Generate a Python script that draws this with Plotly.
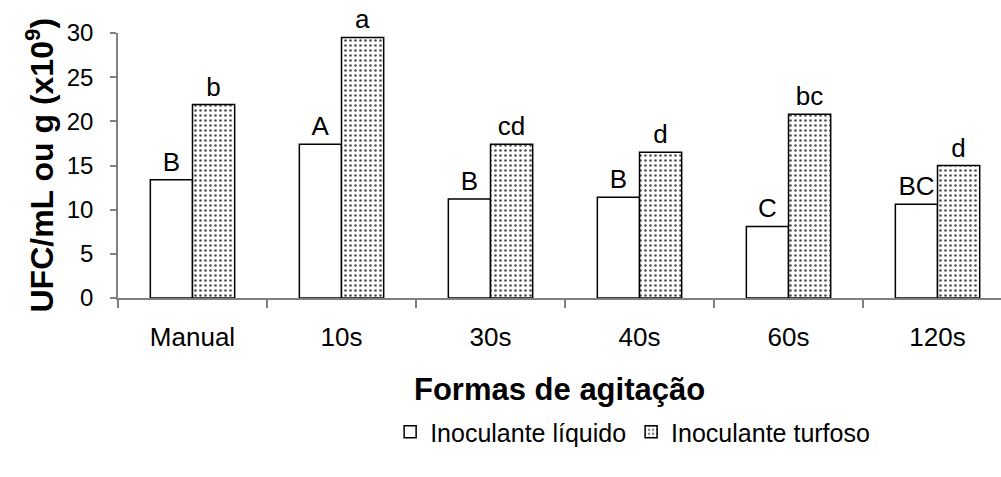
import plotly.graph_objects as go

# Agitation treatments and colony counts (UFC x10^9)
categorias = ["Manual", "10s", "30s", "40s", "60s", "120s"]
liquido = [13.4, 17.4, 11.2, 11.4, 8.1, 10.6]
turfoso = [21.9, 29.5, 17.4, 16.5, 20.8, 15.0]
letras_liquido = ["B", "A", "B", "B", "C", "BC"]
letras_turfoso = ["b", "a", "cd", "d", "bc", "d"]
y_ticks = [0, 5, 10, 15, 20, 25, 30]

FONT = "Arial, Liberation Sans, sans-serif"
AXIS_GRAY = "#808080"

fig = go.Figure()
fig.add_trace(go.Bar(
    x=categorias, y=liquido, name="Inoculante líquido",
    text=letras_liquido, textposition="outside", cliponaxis=False,
    constraintext="none",
    textfont=dict(family=FONT, size=26, color="black"),
    marker=dict(color="white", line=dict(color="black", width=1.5)),
))
fig.add_trace(go.Bar(
    x=categorias, y=turfoso, name="Inoculante turfoso",
    text=letras_turfoso, textposition="outside", cliponaxis=False,
    constraintext="none",
    textfont=dict(family=FONT, size=26, color="black"),
    marker=dict(
        color="white", line=dict(color="black", width=1.5),
        pattern=dict(shape=".", size=5, solidity=0.22,
                     fgcolor="#505050", bgcolor="white", fillmode="replace"),
    ),
))

fig.update_layout(
    width=1001, height=477,
    margin=dict(l=118, r=0, t=33, b=179),
    paper_bgcolor="white", plot_bgcolor="white",
    barmode="group", bargap=0.434, bargroupgap=0,
    font=dict(family=FONT, color="black"),
    showlegend=True,
    legend=dict(
        orientation="h", xref="container", yref="container",
        x=0.632, xanchor="center", y=1 - 432 / 477, yanchor="middle",
        font=dict(family=FONT, size=25, color="black"),
        itemwidth=30, bgcolor="rgba(0,0,0,0)",
    ),
)

fig.update_xaxes(
    type="category", range=[-0.5, 5.426],
    showline=True, linecolor=AXIS_GRAY, linewidth=1.5,
    ticks="outside", tickson="boundaries", ticklen=8, tickcolor=AXIS_GRAY,
    tickwidth=1.5, showgrid=False, zeroline=False,
    tickfont=dict(family=FONT, size=26, color="black"),
    ticklabelstandoff=15,
)
fig.update_yaxes(
    range=[0, 30], tickvals=y_ticks,
    showline=True, linecolor=AXIS_GRAY, linewidth=1.5,
    ticks="outside", ticklen=6, tickcolor=AXIS_GRAY, tickwidth=1.5,
    showgrid=False, zeroline=False,
    tickfont=dict(family=FONT, size=24, color="black"),
    ticklabelstandoff=12,
)

fig.add_annotation(
    text="UFC/mL ou g (x10<sup>9</sup>)", textangle=-90,
    xref="paper", yref="paper", x=0, y=0.5, xshift=-79,
    xanchor="center", yanchor="middle", showarrow=False,
    font=dict(family=FONT, size=32, color="black", weight="bold"),
)
fig.add_annotation(
    text="Formas de agitação",
    xref="paper", yref="paper", x=0.5, y=0, yshift=-91,
    xanchor="center", yanchor="middle", showarrow=False,
    font=dict(family=FONT, size=31, color="black", weight="bold"),
)

fig.write_html("out.html")
